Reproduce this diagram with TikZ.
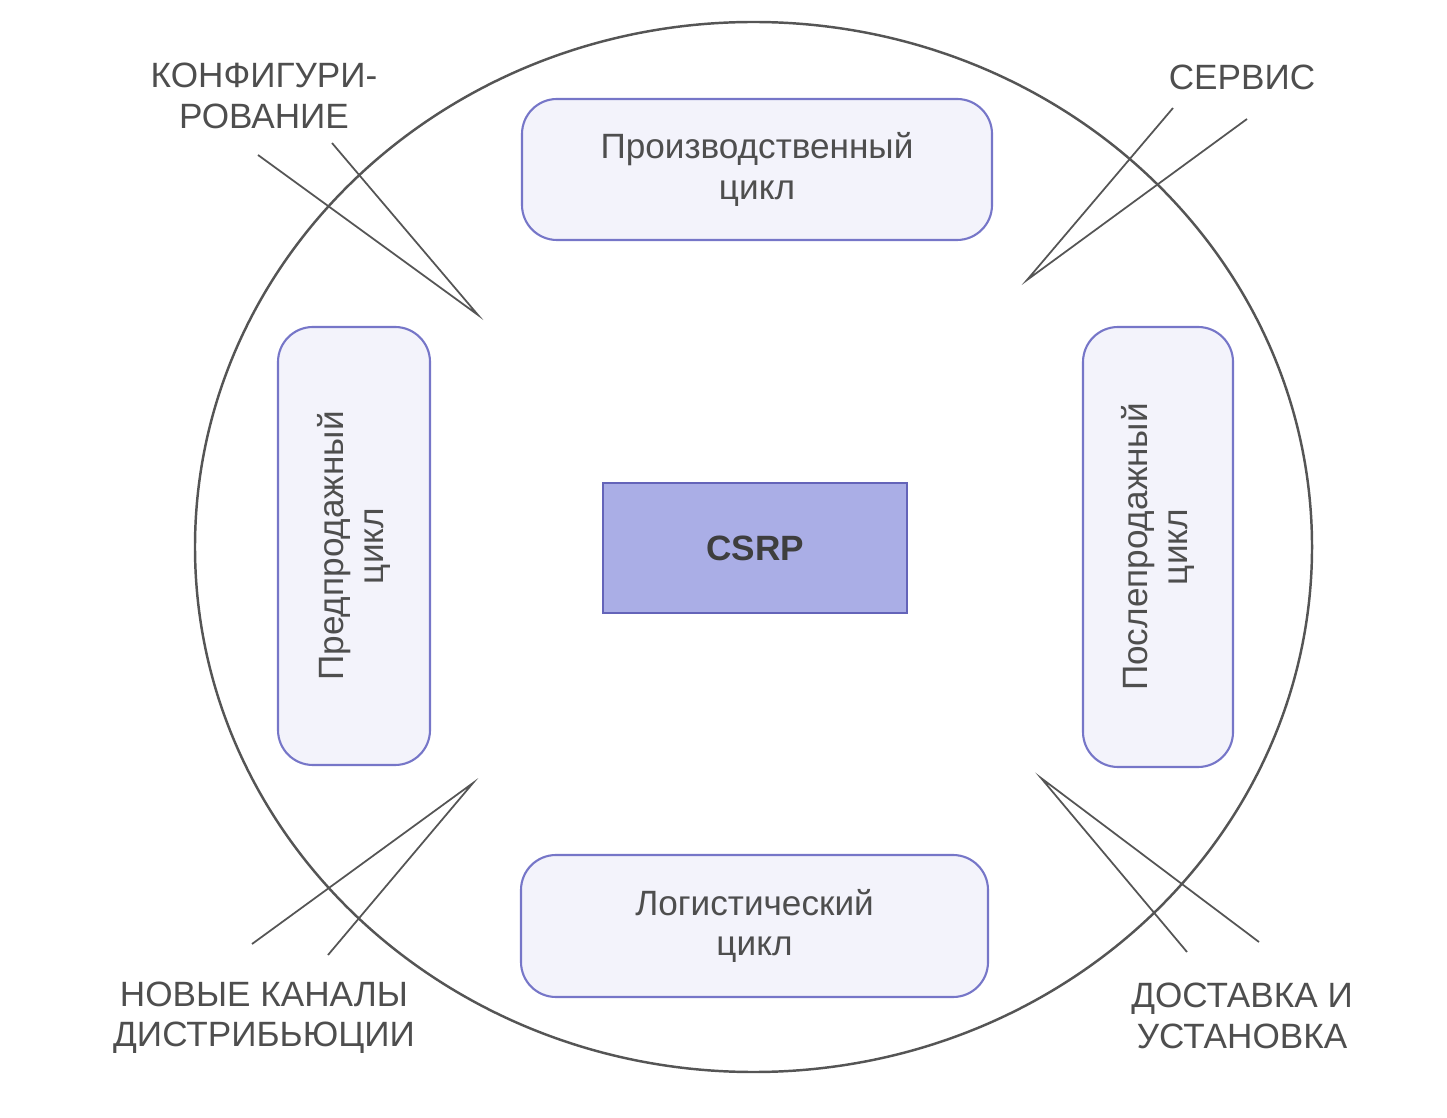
\documentclass[tikz,border=0pt]{standalone}
\usepackage{fontspec}
\setmainfont{Liberation Sans}

\definecolor{cyclefill}{RGB}{243,243,251}
\definecolor{cycleline}{RGB}{118,118,200}
\definecolor{corefill}{RGB}{170,174,230}
\definecolor{coreline}{RGB}{100,100,185}
\definecolor{labelgray}{RGB}{78,78,78}
\definecolor{linegray}{RGB}{85,85,85}

\begin{document}
\begin{tikzpicture}[
  cyclebox/.style={draw=cycleline, fill=cyclefill, line width=0.6pt, rounded corners=0.35cm,
    align=center, text=labelgray, inner sep=0pt, font=\fontsize{10}{11.5}\selectfont},
  corebox/.style={draw=coreline, fill=corefill, line width=0.6pt, inner sep=0pt,
    text=labelgray!80!black, font=\fontsize{10}{12}\selectfont\bfseries},
  tag/.style={align=center, text=labelgray, inner sep=0pt, font=\fontsize{10}{11.5}\selectfont},
  pointer/.style={draw=linegray, line width=0.5pt}
]
\useasboundingbox (0,0) rectangle (14.47,11.17);

%outer ring
\draw[linegray, line width=0.7pt] (7.535,5.70) ellipse (5.585cm and 5.25cm);

%cycles
\node[cyclebox, minimum width=4.70cm, minimum height=1.41cm] (prod) at (7.57,9.475) {Производственный\\цикл};
\node[cyclebox, minimum width=4.67cm, minimum height=1.42cm] (logist) at (7.545,1.91) {Логистический\\цикл};
\node[cyclebox, rotate=90, minimum width=4.38cm, minimum height=1.52cm] (presale) at (3.54,5.71) {Предпродажный\\цикл};
\node[cyclebox, rotate=90, minimum width=4.40cm, minimum height=1.50cm] (aftersale) at (11.58,5.70) {Послепродажный\\цикл};

\node[corebox, minimum width=3.04cm, minimum height=1.30cm] (csrp) at (7.55,5.69) {CSRP};

%--------------------------------------------------------
\node[tag] (config)   at (2.64,10.21) {КОНФИГУРИ-\\РОВАНИЕ};
\node[tag] (service)  at (12.42,10.40) {СЕРВИС};
\node[tag] (channels) at (2.64,0.99)  {НОВЫЕ КАНАЛЫ\\ДИСТРИБЬЮЦИИ};
\node[tag] (delivery) at (12.42,1.01) {ДОСТАВКА И\\УСТАНОВКА};

\coordinate (configA) at (2.58,9.62);  \coordinate (configB) at (3.32,9.74);  \coordinate (configTip) at (4.78,8.02);
\coordinate (serviceA) at (11.73,10.09); \coordinate (serviceB) at (12.47,9.98); \coordinate (serviceTip) at (10.27,8.37);
\coordinate (channelsA) at (2.52,1.73); \coordinate (channelsB) at (3.28,1.62); \coordinate (channelsTip) at (4.73,3.34);
\coordinate (deliveryA) at (11.87,1.65); \coordinate (deliveryB) at (12.59,1.75); \coordinate (deliveryTip) at (10.41,3.39);

\draw[pointer] (configA) -- (configTip) -- (configB);
\draw[pointer] (serviceA) -- (serviceTip) -- (serviceB);
\draw[pointer] (channelsA) -- (channelsTip) -- (channelsB);
\draw[pointer] (deliveryA) -- (deliveryTip) -- (deliveryB);
\end{tikzpicture}
\end{document}
